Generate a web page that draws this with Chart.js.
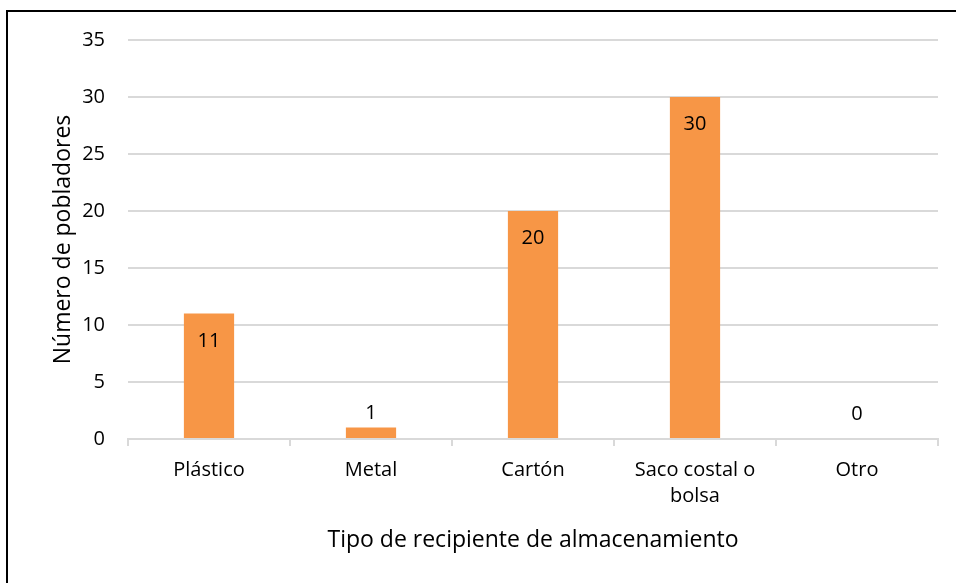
<!DOCTYPE html>
<html>
<head>
<meta charset="utf-8">
<script src="https://cdn.jsdelivr.net/npm/chart.js@4/dist/chart.umd.min.js"></script>
<style>
  html, body { margin: 0; padding: 0; background: #fff; }
  #wrap { position: relative; width: 956px; height: 583px; }
</style>
</head>
<body>
<div id="wrap"><canvas id="c" width="956" height="583"></canvas></div>
<script>
const categories = ['Plástico', 'Metal', 'Cartón', ['Saco costal o', 'bolsa'], 'Otro'];
const values = [11, 1, 20, 30, 0];
const yTicks = [0, 5, 10, 15, 20, 25, 30, 35];
const xTitle = 'Tipo de recipiente de almacenamiento';
const yTitle = 'Número de pobladores';

const FONT = "'Open Sans', 'Noto Sans', sans-serif";

const frame = {
  id: 'frame',
  beforeDraw(chart) {
    const ctx = chart.ctx;
    ctx.save();
    ctx.fillStyle = '#fff';
    ctx.fillRect(0, 0, chart.width, chart.height);
    ctx.restore();
  },
  afterDraw(chart) {
    const ctx = chart.ctx;
    ctx.save();
    ctx.fillStyle = '#000';
    ctx.fillRect(6, 10, chart.width - 6, 2);
    ctx.fillRect(6, 10, 2, chart.height - 10);
    ctx.restore();
  }
};

const labels = {
  id: 'valueLabels',
  afterDatasetsDraw(chart) {
    const ctx = chart.ctx;
    const meta = chart.getDatasetMeta(0);
    ctx.save();
    ctx.font = '20px ' + FONT;
    ctx.fillStyle = '#000';
    ctx.textAlign = 'center';
    ctx.textBaseline = 'middle';
    meta.data.forEach((bar, i) => {
      const y = Math.min(bar.y + 27.5, bar.base - 24.5);
      ctx.fillText(String(values[i]), bar.x, y);
    });
    ctx.restore();
  }
};

new Chart(document.getElementById('c'), {
  type: 'bar',
  data: {
    labels: categories,
    datasets: [{
      data: values,
      backgroundColor: '#F79646',
      borderWidth: 0,
      barPercentage: 0.31,
      categoryPercentage: 1
    }]
  },
  options: {
    responsive: false,
    animation: false,
    devicePixelRatio: 1,
    layout: { padding: { left: 0, right: 18, top: 40, bottom: 0 } },
    plugins: {
      legend: { display: false },
      tooltip: { enabled: false }
    },
    scales: {
      x: {
        grid: {
          display: true,
          drawOnChartArea: false,
          drawTicks: true,
          tickLength: 7,
          color: '#d9d9d9',
          lineWidth: 2,
          offset: true
        },
        border: { display: true, color: '#d9d9d9', width: 2 },
        ticks: {
          color: '#000',
          font: { family: FONT, size: 20, lineHeight: 1.3 },
          padding: 11,
          maxRotation: 0,
          autoSkip: false
        },
        title: {
          display: true,
          text: xTitle,
          color: '#000',
          font: { family: FONT, size: 23, lineHeight: 1.2 },
          padding: { top: 0, bottom: 29 }
        },
        afterFit(scale) { scale.height = 583 - 439; }
      },
      y: {
        min: 0,
        max: 35,
        afterBuildTicks(scale) { scale.ticks = yTicks.map(v => ({ value: v })); },
        grid: {
          color: '#d9d9d9',
          lineWidth: 2,
          drawTicks: false
        },
        border: { display: false },
        ticks: {
          color: '#000',
          font: { family: FONT, size: 20 },
          padding: 23
        },
        title: {
          display: true,
          text: yTitle,
          color: '#000',
          font: { family: FONT, size: 23, lineHeight: 1.2 },
          padding: { top: 50, bottom: 0 }
        },
        afterFit(scale) { scale.width = 128; }
      }
    }
  },
  plugins: [frame, labels]
});
</script>
</body>
</html>
